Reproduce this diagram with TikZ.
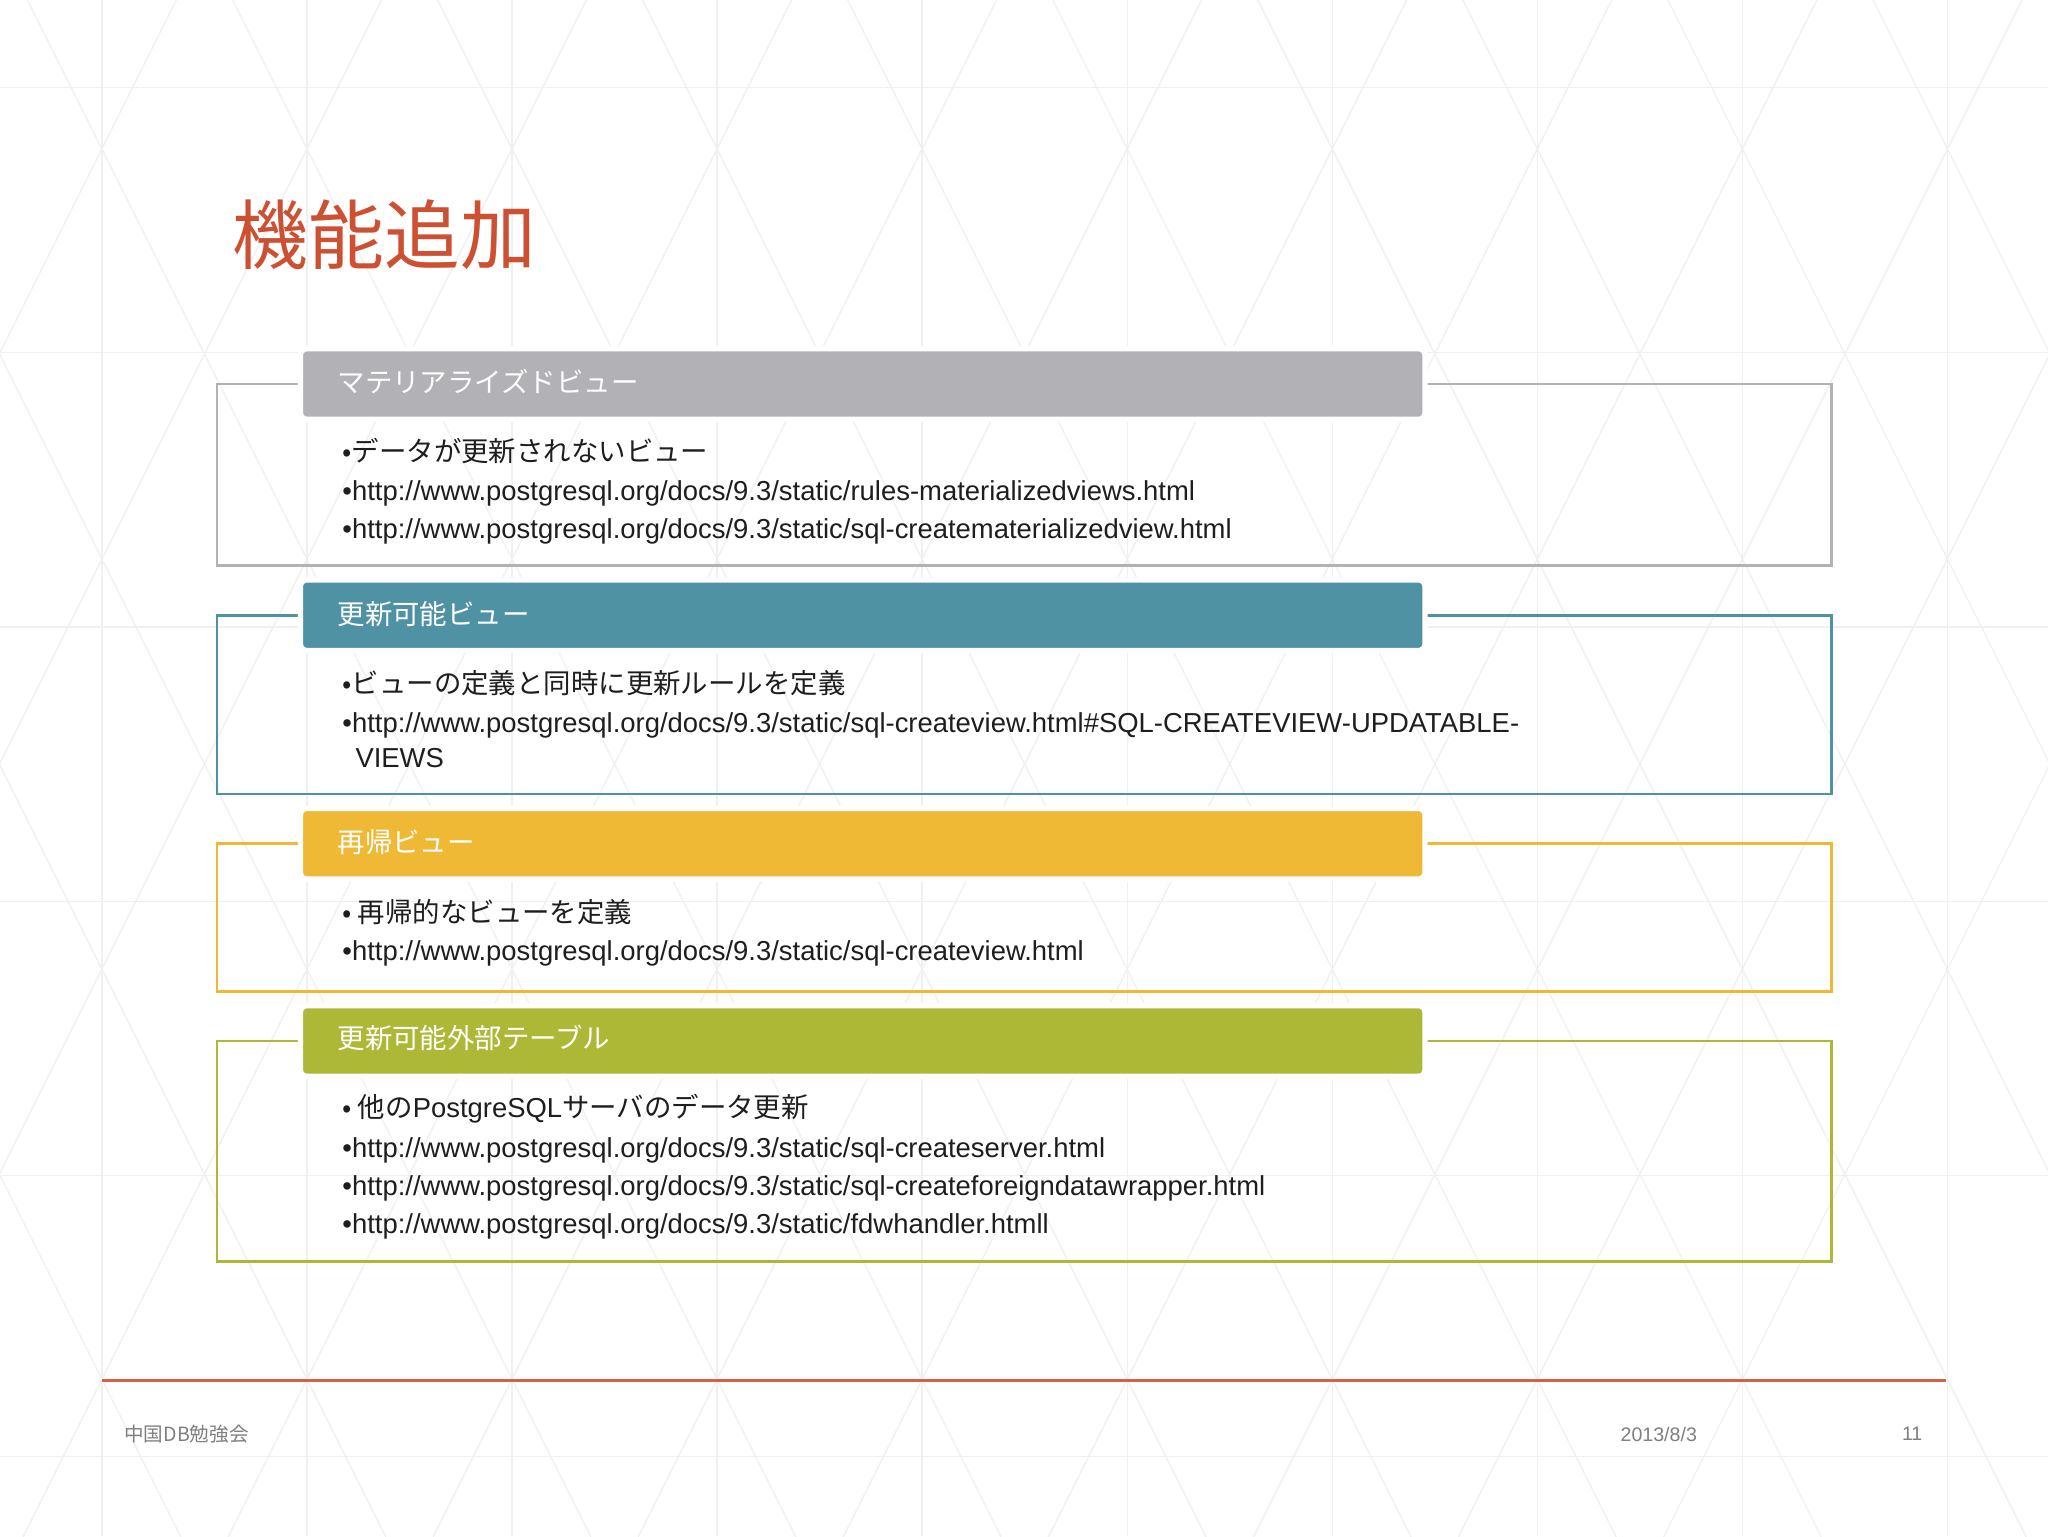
\documentclass[tikz,border=0pt]{standalone}
\usepackage{fontspec}
\setmainfont{Liberation Sans}
\newfontfamily\jp{Noto Sans CJK JP}
\definecolor{cgray}{RGB}{178,177,181}
\definecolor{cteal}{RGB}{79,146,164}
\definecolor{cyel}{RGB}{239,185,54}
\definecolor{coli}{RGB}{173,185,54}
\definecolor{cred}{RGB}{205,80,50}
\definecolor{txt}{RGB}{30,30,30}
\tikzset{x=1pt,y=-1pt,
 outer/.style={line width=2pt},
 head/.style={rounded corners=5pt,draw=white,line width=4pt},
 htxt/.style={anchor=west,text=white,font=\jp\fontsize{21}{24}\selectfont},
 btxt/.style={anchor=west,text=txt,font=\fontsize{21}{23}\selectfont,inner sep=0pt},
 bjtxt/.style={anchor=west,text=txt,font=\jp\fontsize{21}{23}\selectfont,inner sep=0pt},
 grid/.style={draw=gray!12,line width=1pt}}
\begin{document}
\begin{tikzpicture}
\fill[white] (0,0) rectangle (1568,1176);
\useasboundingbox (0,0) rectangle (1568,1176);
\begin{scope}
\clip (0,0) rectangle (1568,1176);
\foreach \i in {-8,...,12}{
  \draw[grid] ({78+157*\i},0) -- ({78+157*\i},1176);
  \draw[grid] ({78+157*\i},-200) -- ({78+157*\i+1500*0.5},1300);
  \draw[grid] ({78+157*\i},-200) -- ({78+157*\i-1500*0.5},1300);
}
\foreach \y in {67,270,480,690,900,1115}{\draw[grid] (0,\y) -- (1568,\y);}
\end{scope}

\node[anchor=west,text=cred,font=\jp\fontsize{58}{60}\selectfont,inner sep=0pt] (title) at (178,180) {機能追加};

% box 1
\draw[outer,draw=cgray] (166,294) rectangle (1402,433);
\filldraw[head,fill=cgray] (230,267) rectangle (1091,321);
\node[htxt] (h1) at (255,292) {マテリアライズドビュー};
\node[bjtxt] (a1) at (262,345) {•データが更新されないビュー};
\node[btxt] (a2) at (262,378) {•http://www.postgresql.org/docs/9.3/static/rules-materializedviews.html};
\node[btxt] (a3) at (262,407) {•http://www.postgresql.org/docs/9.3/static/sql-creatematerializedview.html};

% box 2
\draw[outer,draw=cteal] (166,471) rectangle (1402,608);
\filldraw[head,fill=cteal] (230,444) rectangle (1091,498);
\node[htxt] (h2) at (255,470) {更新可能ビュー};
\node[bjtxt] (b1) at (262,523) {•ビューの定義と同時に更新ルールを定義};
\node[btxt] (b2) at (262,555) {•http://www.postgresql.org/docs/9.3/static/sql-createview.html\#SQL-CREATEVIEW-UPDATABLE-};
\node[btxt] (b3) at (272,580) {VIEWS};

% box 3
\draw[outer,draw=cyel] (166,646) rectangle (1402,759);
\filldraw[head,fill=cyel] (230,619) rectangle (1091,673);
\node[htxt] (h3) at (255,645) {再帰ビュー};
\node[bjtxt] (c1) at (262,698) {• 再帰的なビューを定義};
\node[btxt] (c2) at (262,730) {•http://www.postgresql.org/docs/9.3/static/sql-createview.html};

% box 4
\draw[outer,draw=coli] (166,797) rectangle (1402,966);
\filldraw[head,fill=coli] (230,770) rectangle (1091,824);
\node[htxt] (h4) at (255,795) {更新可能外部テーブル};
\node[bjtxt] (d1) at (262,849) {• 他の\fontspec{Liberation Sans}PostgreSQL\jp サーバのデータ更新};
\node[btxt] (d2) at (262,881) {•http://www.postgresql.org/docs/9.3/static/sql-createserver.html};
\node[btxt] (d3) at (262,910) {•http://www.postgresql.org/docs/9.3/static/sql-createforeigndatawrapper.html};
\node[btxt] (d4) at (262,939) {•http://www.postgresql.org/docs/9.3/static/fdwhandler.htmll};

\draw[draw=cred!90,line width=2pt] (78,1057) -- (1490,1057);
\node[anchor=west,text=gray,font=\jp\fontsize{15}{17}\selectfont,inner sep=0pt] (f1) at (95,1098) {中国DB勉強会};
\node[text=gray,font=\fontsize{15}{17}\selectfont,inner sep=0pt] (f2) at (1270,1098) {2013/8/3};
\node[text=gray,font=\fontsize{15}{17}\selectfont,inner sep=0pt] (f3) at (1464,1098) {11};
\end{tikzpicture}
\end{document}
